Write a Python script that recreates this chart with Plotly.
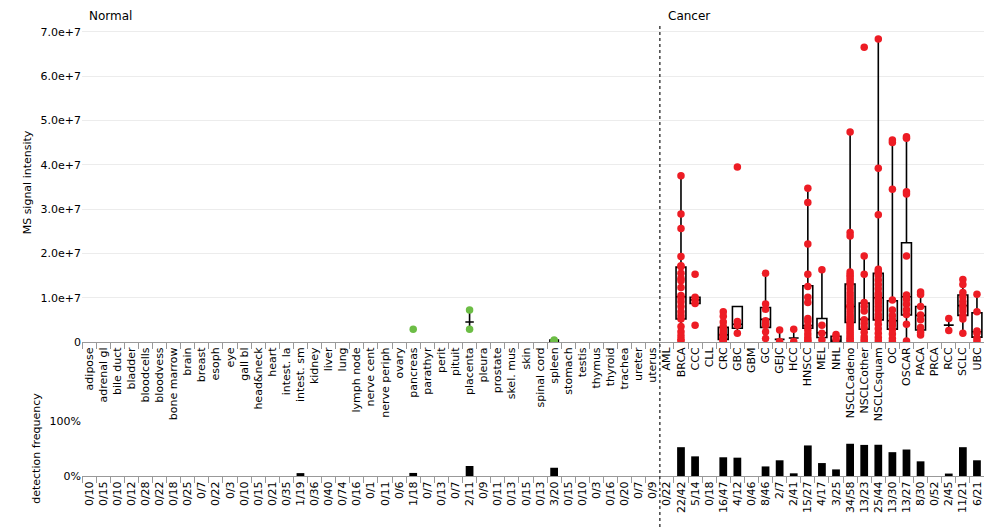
import plotly.graph_objects as go

# ---------------- data ----------------
normal_tissues = ["adipose", "adrenal gl", "bile duct", "bladder", "bloodcells", "bloodvess",
                  "bone marrow", "brain", "breast", "esoph", "eye", "gall bl", "head&neck",
                  "heart", "intest. la", "intest. sm", "kidney", "liver", "lung", "lymph node",
                  "nerve cent", "nerve periph", "ovary", "pancreas", "parathyr", "perit",
                  "pituit", "placenta", "pleura", "prostate", "skel. mus", "skin",
                  "spinal cord", "spleen", "stomach", "testis", "thymus", "thyroid",
                  "trachea", "ureter", "uterus"]
cancer_types = ["AML", "BRCA", "CCC", "CLL", "CRC", "GBC", "GBM", "GC", "GEJC", "HCC",
                "HNSCC", "MEL", "NHL", "NSCLCadeno", "NSCLCother", "NSCLCsquam", "OC",
                "OSCAR", "PACA", "PRCA", "RCC", "SCLC", "UBC"]
categories = normal_tissues + cancer_types

normal_detected = [0, 0, 0, 0, 0, 0, 0, 0, 0, 0, 0, 0, 0, 0, 0, 1, 0, 0, 0, 0, 0,
                   0, 0, 1, 0, 0, 0, 2, 0, 0, 0, 0, 0, 3, 0, 0, 0, 0, 0, 0, 0]
normal_tested = [10, 15, 10, 12, 28, 22, 18, 25, 7, 22, 3, 10, 15, 21, 35, 19, 36, 40, 74, 16, 1,
                 11, 6, 18, 7, 13, 7, 11, 9, 11, 13, 15, 13, 20, 15, 10, 3, 16, 20, 7, 9]
cancer_detected = [0, 22, 5, 0, 16, 4, 0, 8, 2, 2, 15, 4, 3, 34, 13, 25, 13, 13, 8, 0, 2, 11, 6]
cancer_tested = [22, 42, 14, 18, 47, 12, 46, 46, 7, 41, 27, 17, 25, 58, 23, 44, 30, 27, 30, 52,
                 45, 21, 21]

# MS signal intensity of the individual detected samples
normal_values = {
    "pancreas": [2.9e6],
    "placenta": [7.2e6, 2.9e6],
    "spleen": [0.45e6, 0.25e6, 0.1e6],
}
cancer_values = {
    "BRCA": [3.75e7, 2.89e7, 2.56e7, 1.93e7, 1.72e7, 1.70e7, 1.55e7, 1.44e7, 1.38e7, 1.23e7,
             1.05e7, 1.00e7, 0.91e7, 0.80e7, 0.68e7, 0.59e7, 0.52e7, 0.35e7, 0.23e7, 0.14e7,
             0.06e7, 0.02e7],
    "CCC": [1.53e7, 1.01e7, 0.95e7, 0.87e7, 0.38e7],
    "CRC": [0.68e7, 0.58e7, 0.45e7, 0.35e7, 0.30e7, 0.25e7, 0.20e7, 0.17e7, 0.15e7, 0.12e7,
            0.10e7, 0.08e7, 0.06e7, 0.04e7, 0.03e7, 0.02e7],
    "GBC": [3.95e7, 0.46e7, 0.38e7, 0.20e7],
    "GC": [1.55e7, 0.86e7, 0.74e7, 0.48e7, 0.42e7, 0.38e7, 0.23e7, 0.08e7],
    "GEJC": [0.27e7, 0.01e7],
    "HCC": [0.29e7, 0.01e7],
    "HNSCC": [3.47e7, 3.15e7, 2.21e7, 1.53e7, 1.25e7, 1.01e7, 0.89e7, 0.53e7, 0.46e7, 0.36e7,
              0.27e7, 0.18e7, 0.10e7, 0.04e7, 0.01e7],
    "MEL": [1.63e7, 0.38e7, 0.20e7, 0.05e7],
    "NHL": [0.17e7, 0.12e7, 0.05e7],
    "NSCLCadeno": [4.74e7, 2.47e7, 2.39e7, 1.58e7, 1.52e7, 1.47e7, 1.41e7, 1.35e7, 1.28e7,
                   1.20e7, 1.12e7, 1.05e7, 0.98e7, 0.92e7, 0.86e7, 0.82e7, 0.80e7, 0.78e7,
                   0.72e7, 0.66e7, 0.60e7, 0.55e7, 0.50e7, 0.46e7, 0.42e7, 0.37e7, 0.32e7,
                   0.27e7, 0.22e7, 0.17e7, 0.12e7, 0.08e7, 0.04e7, 0.01e7],
    "NSCLCother": [6.65e7, 1.94e7, 1.53e7, 0.89e7, 0.80e7, 0.70e7, 0.50e7, 0.42e7, 0.33e7,
                   0.22e7, 0.12e7, 0.06e7, 0.01e7],
    "NSCLCsquam": [6.84e7, 3.92e7, 2.87e7, 1.64e7, 1.59e7, 1.55e7, 1.50e7, 1.40e7, 1.30e7,
                   1.20e7, 1.10e7, 1.05e7, 1.00e7, 0.95e7, 0.88e7, 0.80e7, 0.72e7, 0.62e7,
                   0.55e7, 0.50e7, 0.40e7, 0.30e7, 0.20e7, 0.10e7, 0.03e7],
    "OC": [4.56e7, 4.50e7, 3.45e7, 0.95e7, 0.72e7, 0.60e7, 0.50e7, 0.45e7, 0.38e7, 0.28e7,
           0.18e7, 0.08e7, 0.02e7],
    "OSCAR": [4.63e7, 4.60e7, 3.39e7, 3.34e7, 1.94e7, 1.06e7, 1.02e7, 0.96e7, 0.85e7, 0.73e7,
              0.62e7, 0.40e7, 0.02e7],
    "PACA": [1.13e7, 1.07e7, 0.80e7, 0.61e7, 0.50e7, 0.33e7, 0.22e7, 0.16e7],
    "RCC": [0.53e7, 0.26e7],
    "SCLC": [1.41e7, 1.30e7, 1.12e7, 1.02e7, 0.92e7, 0.84e7, 0.78e7, 0.70e7, 0.60e7, 0.52e7,
             0.20e7],
    "UBC": [1.08e7, 0.68e7, 0.25e7, 0.20e7, 0.08e7, 0.02e7],
}

# box summary statistics as drawn in the chart
normal_box_cats = ["placenta", "spleen"]
normal_box_q1 = [0.45e7, 0.01e7]
normal_box_median = [0.45e7, 0.025e7]
normal_box_q3 = [0.45e7, 0.045e7]
normal_box_lower = [0.29e7, 0.01e7]
normal_box_upper = [0.72e7, 0.045e7]

cancer_box_cats = ["BRCA", "CCC", "CRC", "GBC", "GC", "GEJC", "HCC", "HNSCC", "MEL", "NHL",
                   "NSCLCadeno", "NSCLCother", "NSCLCsquam", "OC", "OSCAR", "PACA", "RCC",
                   "SCLC", "UBC"]
cancer_box_q1 = [0.52e7, 0.87e7, 0.06e7, 0.31e7, 0.33e7, 0.06e7, 0.09e7, 0.31e7, 0.10e7, 0.01e7,
                 0.44e7, 0.29e7, 0.50e7, 0.29e7, 0.61e7, 0.27e7, 0.38e7, 0.60e7, 0.11e7]
cancer_box_median = [1.02e7, 0.95e7, 0.16e7, 0.40e7, 0.51e7, 0.06e7, 0.09e7, 0.37e7, 0.21e7, 0.04e7,
                     0.80e7, 0.51e7, 1.00e7, 0.48e7, 1.02e7, 0.60e7, 0.38e7, 0.82e7, 0.23e7]
cancer_box_q3 = [1.69e7, 1.01e7, 0.33e7, 0.80e7, 0.78e7, 0.06e7, 0.09e7, 1.27e7, 0.53e7, 0.13e7,
                 1.31e7, 0.88e7, 1.55e7, 0.93e7, 2.24e7, 0.80e7, 0.38e7, 1.06e7, 0.66e7]
cancer_box_lower = [0.02e7, 0.87e7, 0.02e7, 0.20e7, 0.08e7, 0.01e7, 0.01e7, 0.01e7, 0.05e7, 0.01e7,
                    0.01e7, 0.01e7, 0.03e7, 0.02e7, 0.02e7, 0.16e7, 0.26e7, 0.20e7, 0.02e7]
cancer_box_upper = [3.75e7, 1.01e7, 0.68e7, 0.80e7, 1.55e7, 0.27e7, 0.29e7, 3.47e7, 1.63e7, 0.17e7,
                    4.74e7, 1.94e7, 6.84e7, 4.56e7, 4.63e7, 1.13e7, 0.53e7, 1.41e7, 1.08e7]

y_tick_values = [0, 1e7, 2e7, 3e7, 4e7, 5e7, 6e7, 7e7]
y_tick_labels = ["0", "1.0e+7", "2.0e+7", "3.0e+7", "4.0e+7", "5.0e+7", "6.0e+7", "7.0e+7"]
freq_tick_values = [0, 1]
freq_tick_labels = ["0%", "100%"]

# ---------------- derived ----------------
detected = normal_detected + cancer_detected
tested = normal_tested + cancer_tested
frequency = [d / t for d, t in zip(detected, tested)]
fraction_labels = [f"{d}/{t}" for d, t in zip(detected, tested)]

RED = "#ed1c24"
GREEN = "#6cbd45"
FONT = "DejaVu Sans"

fig = go.Figure()


def points(values_dict):
    xs, ys = [], []
    for cat, vals in values_dict.items():
        for v in vals:
            xs.append(cat)
            ys.append(v)
    return xs, ys


nx, ny = points(normal_values)
fig.add_trace(go.Scatter(x=nx, y=ny, mode="markers", marker=dict(color=GREEN, size=7.5),
                         showlegend=False, xaxis="x", yaxis="y"))
cx, cy = points(cancer_values)
fig.add_trace(go.Scatter(x=cx, y=cy, mode="markers", marker=dict(color=RED, size=7.5),
                         showlegend=False, xaxis="x", yaxis="y"))

fig.add_trace(go.Box(x=normal_box_cats, q1=normal_box_q1, median=normal_box_median,
                     q3=normal_box_q3, lowerfence=normal_box_lower, upperfence=normal_box_upper,
                     width=0.6, whiskerwidth=0, fillcolor="rgba(255,255,255,0)",
                     line=dict(color="black", width=1.6), boxpoints=False,
                     showlegend=False, hoverinfo="skip", xaxis="x", yaxis="y"))
fig.add_trace(go.Box(x=cancer_box_cats, q1=cancer_box_q1, median=cancer_box_median,
                     q3=cancer_box_q3, lowerfence=cancer_box_lower, upperfence=cancer_box_upper,
                     width=0.7, whiskerwidth=0, fillcolor="rgba(255,255,255,0)",
                     line=dict(color="black", width=1.6), boxpoints=False,
                     showlegend=False, hoverinfo="skip", xaxis="x", yaxis="y"))

fig.add_trace(go.Bar(x=categories, y=frequency, marker=dict(color="black", line=dict(width=0)),
                     width=0.55, showlegend=False, xaxis="x2", yaxis="y2"))

H = 527
main_top, main_bottom = 23, 342
freq_top, freq_bottom = 421, 476
n = len(categories)

axis_common = dict(type="category", categoryorder="array", categoryarray=categories,
                   range=[-0.5, n - 0.5], tickangle=-90, ticks="outside", tickson="boundaries",
                   ticklen=6, tickcolor="#999999", showline=True, linecolor="#999999",
                   linewidth=1, showgrid=False, tickfont=dict(family=FONT, size=11, color="black"),
                   fixedrange=True, automargin=False)

fig.update_layout(
    width=984, height=H,
    margin=dict(l=82, r=0, t=0, b=0, autoexpand=False),
    paper_bgcolor="white", plot_bgcolor="white",
    font=dict(family=FONT, size=11, color="black"),
    xaxis=dict(anchor="y", domain=[0, 1], **axis_common),
    yaxis=dict(domain=[(H - main_bottom) / H, (H - main_top) / H], range=[0, 7.2e7],
               tickmode="array", tickvals=y_tick_values, ticktext=y_tick_labels,
               showgrid=True, gridcolor="#ececec", gridwidth=1, zeroline=False,
               showline=False, ticks="", automargin=False, fixedrange=True,
               title=dict(text="MS signal intensity", font=dict(family=FONT, size=11), standoff=6),
               tickfont=dict(family=FONT, size=11)),
    xaxis2=dict(anchor="y2", domain=[0, 1], tickmode="array", tickvals=categories,
                ticktext=fraction_labels, **axis_common),
    yaxis2=dict(domain=[(H - freq_bottom) / H, (H - freq_top) / H], range=[0, 1],
                tickmode="array", tickvals=freq_tick_values, ticktext=freq_tick_labels,
                showgrid=False, zeroline=False, showline=False, ticks="", automargin=False,
                fixedrange=True,
                title=dict(text="detection frequency", font=dict(family=FONT, size=11), standoff=6),
                tickfont=dict(family=FONT, size=11)),
    bargap=0.45,
    annotations=[
        dict(text="Normal", x=0, y=(H - 16) / H, xref="x domain", yref="paper", xanchor="left",
             yanchor="middle", xshift=5, showarrow=False, font=dict(family=FONT, size=12)),
        dict(text="Cancer", x=len(normal_tissues) - 0.5, y=(H - 16) / H, xref="x", yref="paper",
             xanchor="left", yanchor="middle", xshift=6, showarrow=False,
             font=dict(family=FONT, size=12)),
    ],
    shapes=[dict(type="line", xref="x", yref="paper", x0=len(normal_tissues) - 0.5,
                 x1=len(normal_tissues) - 0.5, y0=0, y1=(H - main_top) / H,
                 line=dict(color="#444444", width=1.5, dash="dot"))],
)

fig.write_html("out.html", config={"displayModeBar": False},
               post_script="document.body.style.margin='0';document.body.style.overflow='hidden';")
